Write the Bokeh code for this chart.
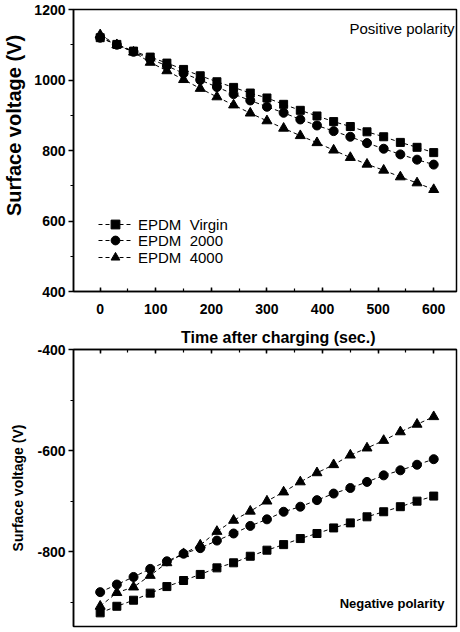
from bokeh.plotting import figure
from bokeh.layouts import column
from bokeh.models import (SingleIntervalTicker, Range1d, Label, Legend, LegendItem,
                          CustomJSTickFormatter)
from bokeh.embed import file_html
from bokeh.resources import INLINE

# ---- data ----
time_s = [0, 30, 60, 90, 120, 150, 180, 210, 240, 270, 300,
          330, 360, 390, 420, 450, 480, 510, 540, 570, 600]

series_names = ["EPDM  Virgin", "EPDM  2000", "EPDM  4000"]
series_markers = ["square", "circle", "triangle"]

pos_virgin = [1120, 1101, 1082, 1065, 1048, 1030, 1012, 995, 979, 963, 949,
              931, 914, 898, 882, 868, 853, 839, 823, 809, 794]
pos_2000 = [1120, 1100, 1080, 1060, 1040, 1019, 1000, 980, 960, 942, 924,
            907, 888, 871, 855, 839, 821, 805, 789, 774, 760]
pos_4000 = [1128, 1100, 1079, 1050, 1026, 1001, 976, 952, 929, 906, 884,
            863, 842, 822, 801, 780, 761, 744, 725, 708, 689]

neg_virgin = [-921, -908, -896, -882, -869, -857, -845, -832, -822, -809, -797,
              -786, -774, -764, -753, -743, -731, -721, -711, -700, -690]
neg_2000 = [-880, -865, -850, -834, -819, -804, -793, -778, -764, -749, -736,
            -721, -711, -698, -685, -674, -662, -649, -639, -628, -617]
neg_4000 = [-908, -881, -870, -847, -822, -804, -787, -760, -738, -720, -700,
            -682, -662, -644, -628, -609, -595, -580, -563, -548, -533]

FONT = "Liberation Sans"
NB = "\u00a0"
marker_sizes = {"square": 8, "circle": 9, "triangle": 10}


def style_common(p):
    p.grid.visible = False
    p.outline_line_color = "black"
    p.outline_line_width = 1.5
    p.background_fill_color = "white"
    p.border_fill_color = "white"
    for ax in p.axis:
        ax.axis_line_width = 1.5
        ax.axis_line_color = "black"
        ax.major_tick_line_width = 1.5
        ax.minor_tick_line_width = 1.2
        ax.major_tick_line_color = "black"
        ax.minor_tick_line_color = "black"
        ax.major_label_text_font = FONT
        ax.major_label_text_font_style = "bold"
        ax.major_label_text_color = "black"
        ax.axis_label_text_font = FONT
        ax.axis_label_text_font_style = "bold"
        ax.axis_label_text_color = "black"


plain_int = CustomJSTickFormatter(code="return tick.toFixed(0)")

# ---------------- top panel (positive polarity) ----------------
p1 = figure(width=458, height=325, x_range=Range1d(-48, 641), y_range=Range1d(400, 1200),
            output_backend="svg", toolbar_location=None,
            min_border_left=70, min_border_right=2, min_border_top=9, min_border_bottom=34)
style_common(p1)
p1.xaxis.ticker = SingleIntervalTicker(interval=100, num_minor_ticks=2)
p1.yaxis.ticker = SingleIntervalTicker(interval=200, num_minor_ticks=2)
p1.xaxis.formatter = plain_int
p1.yaxis.formatter = plain_int
p1.xaxis.major_tick_in = 4
p1.xaxis.major_tick_out = 0
p1.xaxis.minor_tick_in = 3
p1.xaxis.minor_tick_out = 0
p1.xaxis.major_label_text_font_size = "14px"
p1.xaxis.major_label_standoff = 12
p1.yaxis.major_tick_out = 5
p1.yaxis.major_tick_in = 0
p1.yaxis.minor_tick_out = 3
p1.yaxis.minor_tick_in = 0
p1.yaxis.major_label_text_font_size = "14px"
p1.yaxis.major_label_standoff = 3
p1.yaxis.axis_label = NB * 9 + "Surface voltage (V)"
p1.yaxis.axis_label_text_font_size = "20px"
p1.yaxis.axis_label_standoff = 6

legend_bottoms = [56, 40, 23]
for name, mk, ys, lb in zip(series_names, series_markers,
                            [pos_virgin, pos_2000, pos_4000], legend_bottoms):
    ln = p1.line(time_s, ys, line_color="black", line_width=1, line_dash="4 3")
    sc = p1.scatter(time_s, ys, marker=mk, size=marker_sizes[mk],
                    fill_color="black", line_color="black")
    lg = Legend(items=[LegendItem(label=name, renderers=[ln, sc])], location=(25, lb),
                glyph_width=34, glyph_height=22, label_height=16, spacing=0,
                padding=0, margin=0, label_standoff=6,
                border_line_color=None, background_fill_alpha=0,
                label_text_font=FONT, label_text_font_size="15px",
                label_text_color="black")
    p1.add_layout(lg, "center")

p1.add_layout(Label(x=543, y=1146, text="Positive polarity", text_align="center",
                    text_baseline="middle", text_font=FONT, text_font_size="15px",
                    text_color="black"))

# ---------------- bottom panel (negative polarity) ----------------
p2 = figure(width=458, height=303, x_range=Range1d(-48, 641), y_range=Range1d(-948, -400),
            x_axis_location="above", output_backend="svg", toolbar_location=None,
            min_border_left=70, min_border_right=2, min_border_top=24, min_border_bottom=2)
style_common(p2)
p2.xaxis.ticker = SingleIntervalTicker(interval=100, num_minor_ticks=2)
p2.yaxis.ticker = SingleIntervalTicker(interval=200, num_minor_ticks=2)
p2.xaxis.formatter = CustomJSTickFormatter(code="return ''")
p2.yaxis.formatter = plain_int
p2.xaxis.major_tick_in = 4
p2.xaxis.major_tick_out = 0
p2.xaxis.minor_tick_in = 3
p2.xaxis.minor_tick_out = 0
p2.xaxis.major_label_standoff = 0
p2.xaxis.major_label_text_font_size = "2px"
p2.xaxis.axis_label = NB * 6 + "Time after charging (sec.)"
p2.xaxis.axis_label_text_font_size = "16px"
p2.xaxis.axis_label_standoff = 4
p2.yaxis.major_tick_out = 5
p2.yaxis.major_tick_in = 0
p2.yaxis.minor_tick_out = 3
p2.yaxis.minor_tick_in = 0
p2.yaxis.major_label_text_font_size = "14px"
p2.yaxis.major_label_standoff = 3
p2.yaxis.axis_label = "Surface voltage (V)"
p2.yaxis.axis_label_text_font_size = "14px"
p2.yaxis.axis_label_standoff = 8

for mk, ys in zip(series_markers, [neg_virgin, neg_2000, neg_4000]):
    p2.line(time_s, ys, line_color="black", line_width=1, line_dash="4 3")
    p2.scatter(time_s, ys, marker=mk, size=marker_sizes[mk],
               fill_color="black", line_color="black")

p2.add_layout(Label(x=525, y=-903, text="Negative polarity", text_align="center",
                    text_baseline="middle", text_font=FONT, text_font_style="bold",
                    text_font_size="13px", text_color="black"))

layout = column(p1, p2, spacing=0)
open("out.html", "w").write(file_html(layout, INLINE))
